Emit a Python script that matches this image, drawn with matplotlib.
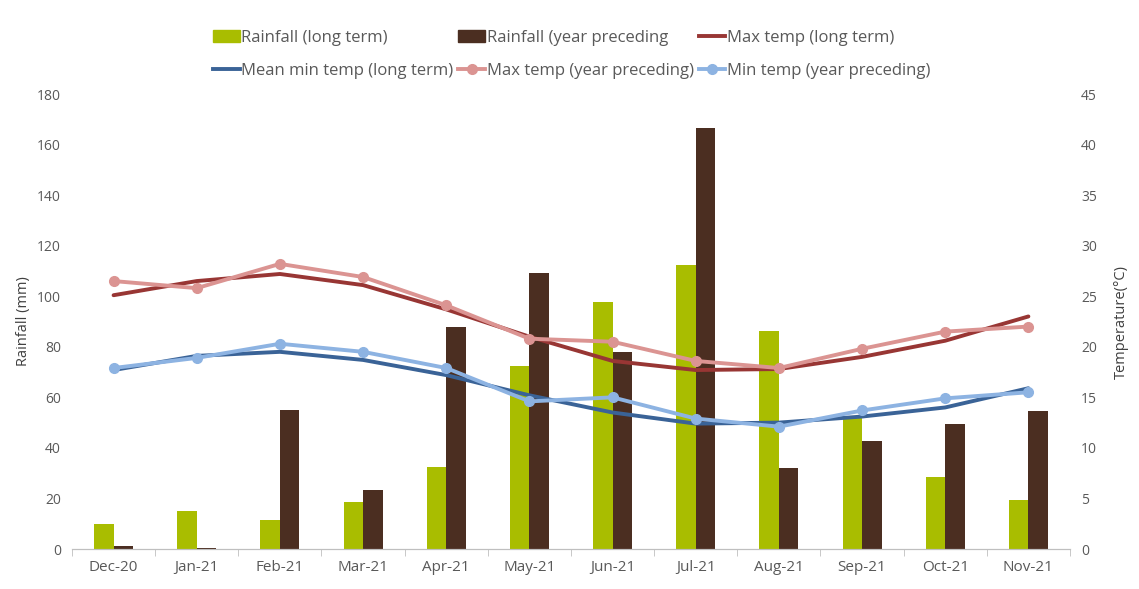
import matplotlib.pyplot as plt
import numpy as np
from matplotlib.lines import Line2D

plt.rcParams['font.family'] = ['Open Sans', 'DejaVu Sans']

months = ['Dec-20', 'Jan-21', 'Feb-21', 'Mar-21', 'Apr-21', 'May-21',
          'Jun-21', 'Jul-21', 'Aug-21', 'Sep-21', 'Oct-21', 'Nov-21']

rain_long = [10, 15, 11.5, 18.5, 32.5, 72.5, 97.8, 112.5, 86.3, 52, 28.5, 19.2]
rain_prev = [1.2, 0.5, 55, 23.5, 88, 109, 78, 166.5, 32, 42.7, 49.5, 54.5]

tmax_long = [25.1, 26.5, 27.2, 26.1, 23.7, 21.0, 18.6, 17.7, 17.8, 19.0, 20.6, 23.0]
tmax_prev = [26.5, 25.8, 28.2, 26.9, 24.1, 20.8, 20.5, 18.6, 17.9, 19.8, 21.5, 22.0]
tmin_long = [17.7, 19.1, 19.5, 18.7, 17.2, 15.2, 13.5, 12.4, 12.5, 13.1, 14.0, 15.9]
tmin_prev = [17.9, 18.9, 20.3, 19.5, 17.9, 14.6, 15.0, 12.9, 12.1, 13.7, 14.9, 15.5]

green = '#A9BD00'
brown = '#4B2E21'
darkred = '#983634'
pink = '#DB9492'
darkblue = '#3A6397'
lightblue = '#8DB3E2'
txt = '#595959'

fig = plt.figure(figsize=(11.39, 5.89), dpi=100)
ax = fig.add_axes([0.0632, 0.0679, 0.8762, 0.7725])
ax2 = ax.twinx()

x = np.arange(len(months))
w = 0.235
ax.bar(x - w / 2, rain_long, w, color=green, zorder=2)
ax.bar(x + w / 2, rain_prev, w, color=brown, zorder=2)

lw = 2.8
ax2.plot(x, tmax_long, color=darkred, lw=lw, solid_capstyle='round')
ax2.plot(x, tmin_long, color=darkblue, lw=lw, solid_capstyle='round')
ax2.plot(x, tmax_prev, color=pink, lw=lw, marker='o', ms=7)
ax2.plot(x, tmin_prev, color=lightblue, lw=lw, marker='o', ms=7)

ax.set_xlim(-0.5, len(months) - 0.5)
ax.set_ylim(0, 180)
ax.set_yticks(np.arange(0, 181, 20))
ax2.set_ylim(0, 45)
ax2.set_yticks(np.arange(0, 46, 5))

ax.set_xticks(x)
ax.set_xticklabels(months)
ax.set_xticks(np.arange(-0.5, len(months)), minor=True)
ax.tick_params(axis='x', which='major', length=0, pad=8, labelsize=11, colors=txt)
ax.tick_params(axis='x', which='minor', length=5, color='#BFBFBF', direction='out')
ax.tick_params(axis='y', length=0, labelsize=10, colors=txt, pad=8)
ax2.tick_params(axis='y', length=0, labelsize=10, colors=txt, pad=8)

for a in (ax, ax2):
    for s in ['top', 'left', 'right']:
        a.spines[s].set_visible(False)
    a.spines['bottom'].set_color('#BFBFBF')

ax.set_ylabel('Rainfall (mm)', fontsize=10.5, color='#404040', labelpad=4)
ax2.set_ylabel('Temperature(°C)', fontsize=10.5, color='#404040', labelpad=12)

handles = [
    plt.Rectangle((0, 0), 1, 1, color=green),
    Line2D([], [], color=darkblue, lw=lw),
    plt.Rectangle((0, 0), 1, 1, color=brown),
    Line2D([], [], color=pink, lw=lw, marker='o', ms=7),
    Line2D([], [], color=darkred, lw=lw),
    Line2D([], [], color=lightblue, lw=lw, marker='o', ms=7),
]
labels = ['Rainfall (long term)', 'Mean min temp (long term)',
          'Rainfall (year preceding', 'Max temp (year preceding)',
          'Max temp (long term)', 'Min temp (year preceding)']
leg = fig.legend(handles, labels, ncol=3, loc='upper center',
                 bbox_to_anchor=(0.502, 0.975), frameon=False,
                 fontsize=12, handlelength=1.6, handletextpad=0.1,
                 columnspacing=0.3, labelspacing=1.05)
for t in leg.get_texts():
    t.set_color(txt)

fig.savefig('out.png', dpi=100)
